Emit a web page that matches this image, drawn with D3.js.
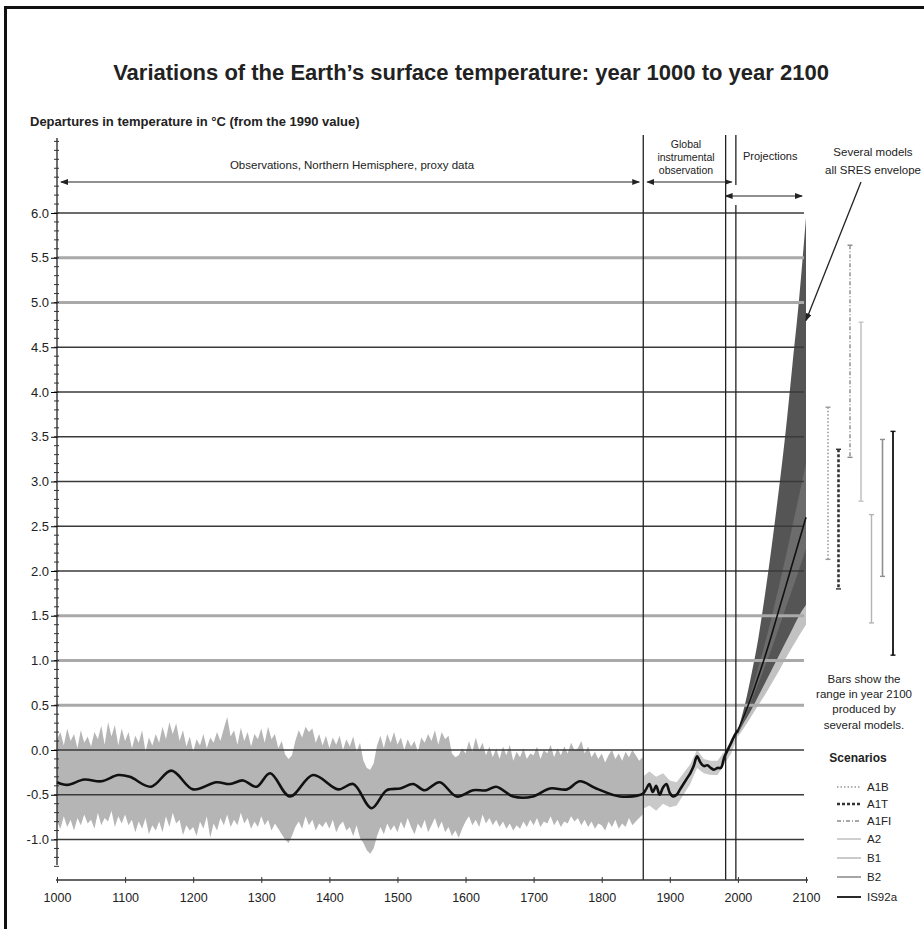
<!DOCTYPE html>
<html><head><meta charset="utf-8">
<script src="https://cdn.jsdelivr.net/npm/d3@7"></script>
<style>
body{margin:0;background:#fff;}
text{font-family:"Liberation Sans",Arial,Helvetica,sans-serif;fill:#222;}
</style></head><body>
<svg id="chart" width="924" height="929"></svg>
<script>
// ---- Northern Hemisphere proxy reconstruction, 1000-1860 (5-year steps) ----
const proxyStart = 1000, proxyStep = 5;
const proxyUpper = [
  0.12, 0.20, 0.05, 0.24, 0.10, 0.18, 0.02, 0.22, 0.08, 0.15,
  0.04, 0.20, 0.12, 0.27, 0.06, 0.31, 0.15, 0.28, 0.05, 0.24,
  0.10, 0.20, 0.02, 0.16, 0.08, 0.22, -0.02, 0.14, 0.05, 0.18,
  0.08, 0.26, 0.12, 0.31, 0.18, 0.30, 0.10, 0.22, 0.04, 0.15,
  -0.02, 0.12, 0.05, 0.18, 0.02, 0.14, 0.08, 0.20, 0.10, 0.24,
  0.37, 0.15, 0.22, 0.06, 0.25, 0.10, 0.20, 0.04, 0.18, 0.12,
  0.24, 0.08, 0.26, 0.12, 0.18, 0.02, 0.10, -0.05, -0.10, -0.06,
  0.10, 0.22, 0.14, 0.26, 0.20, 0.24, 0.08, 0.18, 0.05, 0.16,
  0.02, 0.14, 0.06, 0.16, 0.00, 0.12, 0.04, 0.15, -0.02, 0.08,
  -0.12, -0.20, -0.22, -0.15, 0.05, 0.16, 0.02, 0.18, 0.08, 0.20,
  0.06, 0.14, 0.00, 0.12, 0.04, 0.10, -0.02, 0.14, 0.08, 0.18,
  0.10, 0.22, 0.06, 0.20, 0.12, 0.16, -0.04, -0.08, -0.06, 0.02,
  -0.04, 0.10, -0.02, 0.14, 0.00, 0.08, -0.06, 0.04, -0.08, 0.02,
  -0.10, 0.04, -0.06, 0.06, -0.12, -0.02, -0.08, 0.02, -0.10, -0.04,
  -0.06, 0.04, -0.10, 0.00, -0.04, 0.06, -0.08, 0.02, -0.06, 0.04,
  -0.04, 0.08, 0.00, 0.02, 0.10, -0.04, 0.04, -0.08, -0.02, -0.10,
  -0.04, -0.14, -0.06, 0.00, -0.10, -0.04, -0.12, -0.02, -0.08, 0.00,
  -0.06, -0.12, -0.08
];
const proxyLower = [
  -0.80, -0.88, -0.74, -0.86, -0.78, -0.90, -0.76, -0.84, -0.72, -0.82,
  -0.78, -0.88, -0.70, -0.84, -0.76, -0.80, -0.68, -0.86, -0.74, -0.82,
  -0.72, -0.84, -0.78, -0.92, -0.80, -0.88, -0.76, -0.94, -0.84, -0.90,
  -0.80, -0.92, -0.74, -0.86, -0.70, -0.82, -0.78, -0.95, -0.84, -0.90,
  -0.86, -0.96, -0.80, -0.88, -0.74, -0.98, -0.82, -0.90, -0.76, -0.84,
  -0.72, -0.86, -0.78, -0.84, -0.70, -0.82, -0.76, -0.88, -0.80, -0.86,
  -0.74, -0.84, -0.78, -0.90, -0.82, -0.88, -0.94, -1.00, -1.04, -0.96,
  -0.86, -0.80, -0.88, -0.74, -0.84, -0.78, -0.90, -0.82, -0.86, -0.80,
  -0.88, -0.78, -0.92, -0.84, -0.80, -0.90, -0.86, -0.96, -0.84, -0.98,
  -1.04, -1.12, -1.16, -1.10, -0.96, -0.86, -0.94, -0.82, -0.90, -0.84,
  -0.92, -0.80, -0.88, -0.76, -0.86, -0.94, -0.82, -0.88, -0.78, -0.92,
  -0.84, -0.76, -0.88, -0.80, -0.92, -0.86, -0.96, -0.90, -0.98, -0.88,
  -0.80, -0.74, -0.84, -0.78, -0.86, -0.72, -0.82, -0.76, -0.84, -0.78,
  -0.86, -0.80, -0.88, -0.82, -0.90, -0.84, -0.88, -0.80, -0.86, -0.78,
  -0.84, -0.76, -0.86, -0.80, -0.82, -0.74, -0.84, -0.78, -0.86, -0.80,
  -0.82, -0.74, -0.80, -0.76, -0.84, -0.78, -0.86, -0.80, -0.88, -0.82,
  -0.84, -0.90, -0.80, -0.86, -0.78, -0.88, -0.82, -0.86, -0.76, -0.84,
  -0.80, -0.76, -0.72
];

// ---- Global instrumental record 1860-2000: uncertainty band ----
const instYears = [1860, 1870, 1880, 1890, 1900, 1910, 1920, 1930, 1940, 1950, 1960, 1970, 1980, 1990, 2000];
const instUpper = [-0.30, -0.24, -0.30, -0.26, -0.34, -0.36, -0.26, -0.16, 0.00, -0.10, -0.12, -0.12, -0.02, 0.10, 0.26];
const instLower = [-0.66, -0.62, -0.68, -0.60, -0.64, -0.62, -0.50, -0.38, -0.20, -0.26, -0.28, -0.28, -0.16, -0.04, 0.16];

// ---- Smoothed observed series (proxy, then instrumental) ----
const obsYears = [1000, 1015, 1040, 1065, 1090, 1107, 1138, 1168, 1200, 1234, 1254, 1273, 1293, 1313, 1342,
  1376, 1413, 1435, 1462, 1484, 1504, 1523, 1540, 1562, 1587, 1611, 1631, 1645, 1670, 1699, 1724, 1749,
  1768, 1792, 1827, 1860, 1865, 1870, 1875, 1880, 1885, 1890, 1895, 1900, 1905, 1910, 1915, 1920, 1925,
  1930, 1935, 1940, 1945, 1950, 1955, 1960, 1965, 1970, 1975, 1980, 1985, 1990, 1995, 2000];
const obsValues = [-0.36, -0.39, -0.33, -0.35, -0.28, -0.30, -0.41, -0.23, -0.44, -0.36, -0.38, -0.34, -0.41, -0.26, -0.52,
  -0.28, -0.44, -0.38, -0.65, -0.45, -0.43, -0.38, -0.45, -0.36, -0.52, -0.45, -0.45, -0.41, -0.52, -0.52, -0.43, -0.44,
  -0.35, -0.43, -0.52, -0.49, -0.44, -0.38, -0.47, -0.40, -0.50, -0.42, -0.38, -0.48, -0.52, -0.50, -0.44, -0.38, -0.32,
  -0.26, -0.18, -0.07, -0.14, -0.18, -0.17, -0.20, -0.22, -0.20, -0.20, -0.08, 0.00, 0.08, 0.16, 0.22];

// ---- Projections 2000-2100: all-SRES envelope and IS92a ----
const projYears = [2000, 2010, 2020, 2030, 2040, 2050, 2060, 2070, 2080, 2090, 2100];
const envUpper = [0.22, 0.50, 0.85, 1.25, 1.75, 2.30, 2.90, 3.55, 4.30, 5.05, 5.95];
const envLower = [0.18, 0.32, 0.45, 0.60, 0.75, 0.90, 1.05, 1.20, 1.35, 1.50, 1.62];
const envLowerFringe = [0.15, 0.26, 0.38, 0.50, 0.62, 0.75, 0.88, 1.02, 1.15, 1.28, 1.40];
const is92aBandUpper = [0.22, 0.42, 0.66, 0.92, 1.20, 1.50, 1.82, 2.15, 2.50, 2.85, 3.20];
const is92aBandLower = [0.20, 0.36, 0.55, 0.74, 0.94, 1.14, 1.36, 1.58, 1.80, 2.02, 2.25];
const is92aValues = [0.22, 0.40, 0.60, 0.82, 1.05, 1.30, 1.56, 1.82, 2.08, 2.34, 2.60];

// ---- Ranges in 2100 for each scenario (several models) ----
const scenarios = ["A1B", "A1T", "A1FI", "A2", "B1", "B2", "IS92a"];
const rangeLow  = [2.13, 1.80, 3.27, 2.78, 1.42, 1.94, 1.06];
const rangeHigh = [3.83, 3.36, 5.64, 4.78, 2.63, 3.47, 3.56];
const scenarioStyle = [
  {stroke: "#9a9a9a", width: 1.6, dash: "1.5,2"},
  {stroke: "#333", width: 2.6, dash: "3,2"},
  {stroke: "#8a8a8a", width: 1.4, dash: "4,2,1,2"},
  {stroke: "#c4c4c4", width: 1.6, dash: null},
  {stroke: "#b4b4b4", width: 1.4, dash: null},
  {stroke: "#8f8f8f", width: 1.6, dash: null},
  {stroke: "#111", width: 1.8, dash: null}
];

// ---- Axis ticks and period boundaries ----
const yearTicks = [1000, 1100, 1200, 1300, 1400, 1500, 1600, 1700, 1800, 1900, 2000, 2100];
const tempTicks = [-1.0, -0.5, 0.0, 0.5, 1.0, 1.5, 2.0, 2.5, 3.0, 3.5, 4.0, 4.5, 5.0, 5.5, 6.0];
const softGridTicks = [0.5, 1.0, 1.5, 5.0, 5.5];
const periodBounds = [1861, 1982, 1997];

const svg = d3.select("#chart");
const x = d3.scaleLinear().domain([1000, 2100]).range([57, 806]);
const y = d3.scaleLinear().domain([-1, 6]).range([839.5, 213]);

// outer frame
svg.append("rect").attr("x", 5.5).attr("y", 7.5).attr("width", 960).attr("height", 960)
  .attr("fill", "none").attr("stroke", "#111").attr("stroke-width", 3);

// arrowhead marker
const defs = svg.append("defs");
defs.append("marker").attr("id", "arr").attr("viewBox", "0 0 8 6").attr("refX", 7).attr("refY", 3)
  .attr("markerWidth", 8).attr("markerHeight", 6).attr("markerUnits", "userSpaceOnUse")
  .attr("orient", "auto-start-reverse")
  .append("path").attr("d", "M0,0L8,3L0,6Z").attr("fill", "#222");

// titles
svg.append("text").attr("x", 471).attr("y", 80).attr("text-anchor", "middle")
  .attr("font-size", 22).attr("font-weight", "bold").attr("fill", "#111")
  .text("Variations of the Earth\u2019s surface temperature: year 1000 to year 2100");
svg.append("text").attr("x", 30).attr("y", 126).attr("font-size", 13).attr("font-weight", "bold")
  .text("Departures in temperature in \u00B0C (from the 1990 value)");

// proxy band
const bandArea = d3.area().x(d => x(d.year)).y0(d => y(d.lo)).y1(d => y(d.hi));
const proxyData = proxyUpper.map((hi, i) => ({year: proxyStart + i * proxyStep, hi, lo: proxyLower[i]}));
svg.append("path").datum(proxyData).attr("d", bandArea).attr("fill", "#b5b5b5");
const instData = instYears.map((yr, i) => ({year: yr, hi: instUpper[i], lo: instLower[i]}));
svg.append("path").datum(instData).attr("d", bandArea.curve(d3.curveLinear)).attr("fill", "#c9c9c9");

// projection envelope
const projArea = (hiArr, loArr) => d3.area().curve(d3.curveMonotoneX)
  .x((d, i) => x(projYears[i])).y0((d, i) => y(loArr[i])).y1((d, i) => y(hiArr[i]))(projYears);
svg.append("path").attr("d", projArea(envLower, envLowerFringe)).attr("fill", "#c2c2c2");
svg.append("path").attr("d", projArea(envUpper, envLower)).attr("fill", "#555");
svg.append("path").attr("d", projArea(is92aBandUpper, is92aBandLower)).attr("fill", "#6c6c6c");

// horizontal grid
tempTicks.forEach(t => {
  const soft = softGridTicks.includes(t);
  svg.append("line").attr("x1", x(1000)).attr("x2", 804).attr("y1", y(t)).attr("y2", y(t))
    .attr("stroke", soft ? "#a9a9a9" : "#3a3a3a").attr("stroke-width", soft ? 3 : 1.4);
});

// period boundaries
periodBounds.forEach((yr, i) => {
  const xx = x(yr);
  if (i === 2) {
    svg.append("line").attr("x1", xx).attr("x2", xx).attr("y1", 135).attr("y2", 185).attr("stroke", "#222").attr("stroke-width", 1.3);
    svg.append("line").attr("x1", xx).attr("x2", xx).attr("y1", 205).attr("y2", 880).attr("stroke", "#222").attr("stroke-width", 1.3);
  } else {
    svg.append("line").attr("x1", xx).attr("x2", xx).attr("y1", 135).attr("y2", 880).attr("stroke", "#222").attr("stroke-width", 1.3);
  }
});

// observed smoothed curve
const obsLine = d3.line().curve(d3.curveCatmullRom.alpha(0.5)).x((d, i) => x(obsYears[i])).y(d => y(d));
svg.append("path").attr("d", obsLine(obsValues)).attr("fill", "none").attr("stroke", "#111").attr("stroke-width", 2.6);

// IS92a projection line
const projLine = d3.line().curve(d3.curveMonotoneX).x((d, i) => x(projYears[i])).y(d => y(d));
svg.append("path").attr("d", projLine(is92aValues)).attr("fill", "none").attr("stroke", "#111").attr("stroke-width", 1.6);

// y axis
const yAxisG = svg.append("g").attr("transform", `translate(${x(1000)},0)`);
yAxisG.append("line").attr("x1", 0).attr("x2", 0).attr("y1", 138).attr("y2", 865).attr("stroke", "#222").attr("stroke-width", 1.3);
const minorTicks = d3.range(-13, 69).map(k => k / 10);
yAxisG.selectAll("line.minor").data(minorTicks).join("line").attr("class", "minor")
  .attr("x1", -3).attr("x2", 2).attr("y1", d => y(d)).attr("y2", d => y(d)).attr("stroke", "#333").attr("stroke-width", 1);
const yAxis = d3.axisLeft(y).tickValues(tempTicks).tickSize(6).tickPadding(2)
  .tickFormat(d => d.toFixed(1));
const ya = yAxisG.append("g").call(yAxis);
ya.select(".domain").remove();
ya.selectAll("text").attr("font-size", 13).attr("fill", "#333").style("font-family", "'Liberation Sans',Arial,sans-serif");

// x axis
const xa = svg.append("g").attr("transform", "translate(0,880)")
  .call(d3.axisBottom(x).tickValues(yearTicks).tickSize(3).tickPadding(10).tickFormat(d3.format("d")));
xa.select(".domain").attr("d", `M${x(1000) - 1},0H${x(2100) + 2}`).attr("stroke", "#333").attr("stroke-width", 1.5);
xa.selectAll(".tick line").attr("y1", -3).attr("y2", 3).attr("stroke", "#333");
xa.selectAll("text").attr("font-size", 12.5).attr("fill", "#333").style("font-family", "'Liberation Sans',Arial,sans-serif");

// period annotations
svg.append("text").attr("x", 352).attr("y", 169).attr("text-anchor", "middle").attr("font-size", 11.5)
  .text("Observations, Northern Hemisphere, proxy data");
svg.append("line").attr("x1", x(1000) + 4).attr("x2", x(1861) - 4).attr("y1", 182).attr("y2", 182)
  .attr("stroke", "#222").attr("stroke-width", 1.2).attr("marker-start", "url(#arr)").attr("marker-end", "url(#arr)");
[["Global", 148], ["instrumental", 161], ["observation", 174]].forEach(([t, yy]) =>
  svg.append("text").attr("x", 686).attr("y", yy).attr("text-anchor", "middle").attr("font-size", 10.5).text(t));
svg.append("line").attr("x1", x(1861) + 4).attr("x2", x(1982) + 6).attr("y1", 182).attr("y2", 182)
  .attr("stroke", "#222").attr("stroke-width", 1.2).attr("marker-start", "url(#arr)").attr("marker-end", "url(#arr)");
svg.append("text").attr("x", 743).attr("y", 160).attr("font-size", 11).text("Projections");
svg.append("line").attr("x1", x(1982)).attr("x2", 802).attr("y1", 196).attr("y2", 196)
  .attr("stroke", "#222").attr("stroke-width", 1.2).attr("marker-start", "url(#arr)").attr("marker-end", "url(#arr)");
[["Several models", 156], ["all SRES envelope", 174]].forEach(([t, yy]) =>
  svg.append("text").attr("x", 873).attr("y", yy).attr("text-anchor", "middle").attr("font-size", 11.5).text(t));
svg.append("line").attr("x1", 861).attr("y1", 182).attr("x2", x(2100)).attr("y2", y(4.8))
  .attr("stroke", "#222").attr("stroke-width", 1.3).attr("marker-end", "url(#arr)");

// 2100 range bars
const barX = [828, 838.5, 850, 861, 871.5, 882.5, 893];
scenarios.forEach((s, i) => {
  const st = scenarioStyle[i];
  const g = svg.append("g");
  g.append("line").attr("x1", barX[i]).attr("x2", barX[i]).attr("y1", y(rangeHigh[i])).attr("y2", y(rangeLow[i]))
    .attr("stroke", st.stroke).attr("stroke-width", st.width).attr("stroke-dasharray", st.dash);
  [rangeHigh[i], rangeLow[i]].forEach(v => g.append("line").attr("x1", barX[i] - 2.5).attr("x2", barX[i] + 2.5)
    .attr("y1", y(v)).attr("y2", y(v)).attr("stroke", st.stroke).attr("stroke-width", 1.4));
});

// legend
[["Bars show the", 683], ["range in year 2100", 698], ["produced by", 713], ["several models.", 729]].forEach(([t, yy]) =>
  svg.append("text").attr("x", 864).attr("y", yy).attr("text-anchor", "middle").attr("font-size", 11.5).text(t));
svg.append("text").attr("x", 858).attr("y", 762).attr("text-anchor", "middle").attr("font-size", 12)
  .attr("font-weight", "bold").attr("fill", "#333").text("Scenarios");
const legendY = [787, 804, 821, 839, 858, 877, 897];
scenarios.forEach((s, i) => {
  const st = scenarioStyle[i];
  svg.append("line").attr("x1", 837).attr("x2", 861).attr("y1", legendY[i]).attr("y2", legendY[i])
    .attr("stroke", st.stroke).attr("stroke-width", st.width).attr("stroke-dasharray", st.dash);
  svg.append("text").attr("x", 867).attr("y", legendY[i] + 4).attr("font-size", 11.5).attr("fill", "#333").text(s);
});
</script>
</body></html>
